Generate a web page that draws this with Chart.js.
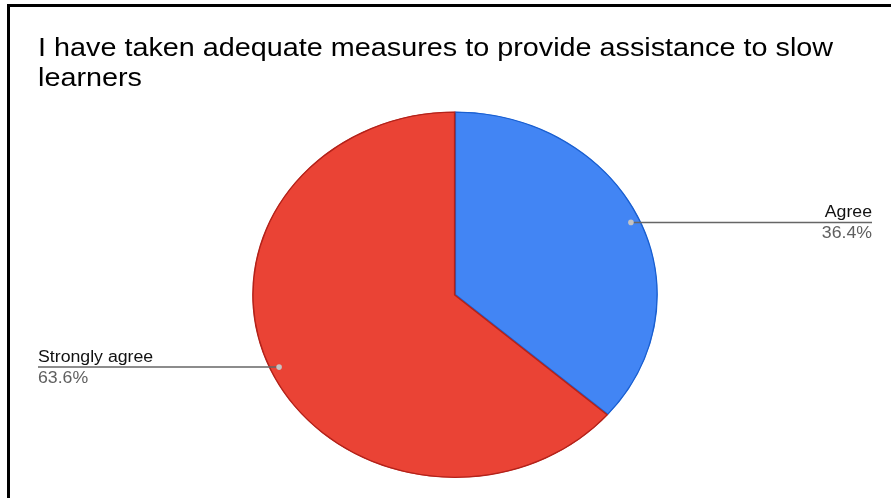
<!DOCTYPE html>
<html>
<head>
<meta charset="utf-8">
<script src="https://cdn.jsdelivr.net/npm/chart.js@4"></script>
<style>
  html, body { margin: 0; padding: 0; background: #fff; }
  #wrap { position: relative; width: 891px; height: 498px; overflow: hidden; }
  #pieChart { position: absolute; left: 0; top: 0; }
  #frame {
    position: absolute; left: 7px; top: 4px; right: -10px; bottom: -10px;
    border-left: 3px solid #000; border-top: 3px solid #000;
    pointer-events: none;
  }
</style>
</head>
<body>
<div id="wrap">
  <canvas id="pieChart" width="891" height="498"></canvas>
  <div id="frame"></div>
</div>
<script>
const titleLines = ['I have taken adequate measures to provide assistance to slow', 'learners'];
const categories = ['Agree', 'Strongly agree'];
const percentages = [36.4, 63.6];
const sliceColors = ['#4285f4', '#ea4335'];
const sliceEdges = ['#1a5fd0', '#b3221a'];

// everything is drawn a little wider than tall: the pie becomes an ellipse
const STRETCH_X = 202 / 182.5;

function wideText(ctx, text, x, y) {
  ctx.save();
  ctx.translate(x, y);
  ctx.scale(STRETCH_X, 1);
  ctx.fillText(text, 0, 0);
  ctx.restore();
}

const stretchPlugin = {
  id: 'stretch',
  beforeDatasetsDraw(chart) {
    const arc = chart.getDatasetMeta(0).data[0];
    const ctx = chart.ctx;
    ctx.save();
    ctx.translate(arc.x, arc.y);
    ctx.scale(STRETCH_X, 1);
    ctx.translate(-arc.x, -arc.y);
  },
  afterDatasetsDraw(chart) {
    chart.ctx.restore();
  }
};

const labelPlugin = {
  id: 'sideLabels',
  afterDraw(chart) {
    const ctx = chart.ctx;
    ctx.save();
    // title
    ctx.fillStyle = '#000';
    ctx.font = '26px "Liberation Sans", Arial, sans-serif';
    ctx.textAlign = 'left';
    ctx.textBaseline = 'alphabetic';
    wideText(ctx, titleLines[0], 38, 56);
    wideText(ctx, titleLines[1], 38, 86);

    const meta = chart.getDatasetMeta(0);
    meta.data.forEach((arc, i) => {
      const mid = (arc.startAngle + arc.endAngle) / 2;
      const r = arc.outerRadius * 0.953;
      const px = arc.x + Math.cos(mid) * r * STRETCH_X;
      const py = arc.y + Math.sin(mid) * r;
      const right = Math.cos(mid) >= 0;
      const endX = right ? 872 : 38;

      ctx.strokeStyle = '#666';
      ctx.lineWidth = 1.5;
      ctx.beginPath();
      ctx.moveTo(px, py);
      ctx.lineTo(endX, py);
      ctx.stroke();

      ctx.fillStyle = '#c4c4c4';
      ctx.beginPath();
      ctx.arc(px, py, 2.8, 0, Math.PI * 2);
      ctx.fill();

      ctx.textAlign = right ? 'right' : 'left';
      ctx.font = '16px "Liberation Sans", Arial, sans-serif';
      ctx.fillStyle = '#111';
      wideText(ctx, categories[i], endX, py - 5);
      ctx.fillStyle = '#5f5f5f';
      wideText(ctx, percentages[i].toFixed(1) + '%', endX, py + 16);
    });
    ctx.restore();
  }
};

new Chart(document.getElementById('pieChart'), {
  type: 'pie',
  data: {
    labels: categories,
    datasets: [{
      data: percentages,
      backgroundColor: sliceColors,
      borderColor: sliceEdges,
      borderWidth: 1,
      borderAlign: 'inner'
    }]
  },
  options: {
    responsive: false,
    animation: false,
    layout: { padding: { top: 111.5, bottom: 20, left: 200, right: 181 } },
    plugins: {
      legend: { display: false },
      tooltip: { enabled: false },
      title: { display: false }
    }
  },
  plugins: [stretchPlugin, labelPlugin]
});
</script>
</body>
</html>
